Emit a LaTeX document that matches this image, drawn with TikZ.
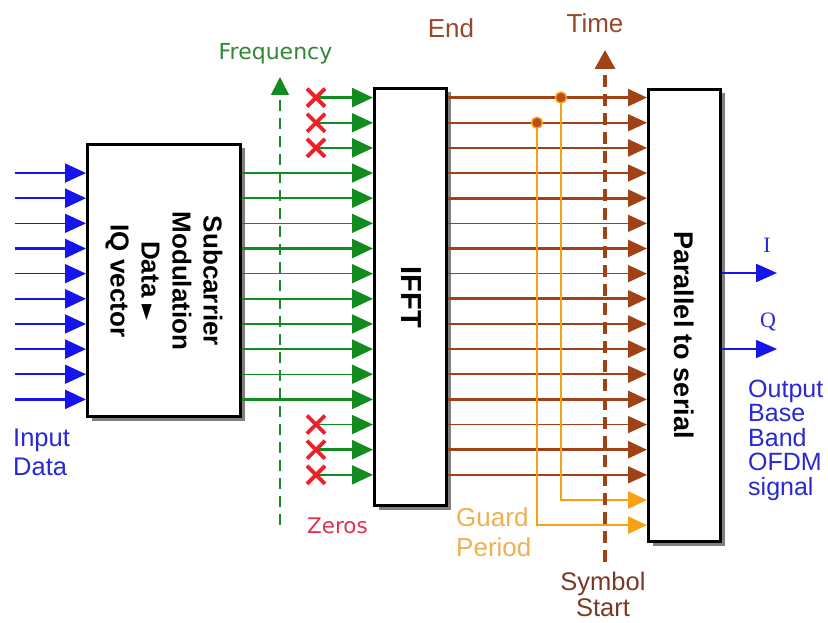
\documentclass[tikz,border=0pt]{standalone}
\usepackage{fontspec}
\setmainfont{Liberation Sans}
\newfontfamily\arialf{Liberation Sans}
\newfontfamily\verdf{DejaVu Sans}
\newfontfamily\timesf{Liberation Serif}
\usetikzlibrary{arrows.meta,shadows}
\definecolor{cblue}{RGB}{20,20,235}
\definecolor{cbluetxt}{RGB}{40,40,215}
\definecolor{cgreen}{RGB}{18,140,30}
\definecolor{cfreq}{RGB}{50,135,55}
\definecolor{cred}{RGB}{238,32,42}
\definecolor{czeros}{RGB}{225,50,75}
\definecolor{cbrown}{RGB}{160,66,22}
\definecolor{cbrowntxt}{RGB}{150,72,42}
\definecolor{csymtxt}{RGB}{120,58,38}
\definecolor{corange}{RGB}{250,160,20}
\definecolor{cguardtxt}{RGB}{240,175,80}
\definecolor{cdot}{RGB}{185,80,25}
\begin{document}
\begin{tikzpicture}[x=1pt,y=-1pt,
  blk/.style={draw=black, line width=3pt, fill=white, inner sep=0pt,
    drop shadow={shadow xshift=4pt, shadow yshift=-4pt, fill=black!50, opacity=1}},
  boxtxt/.style={rotate=-90, align=center, inner sep=0pt, text=black},
  barrow/.style={draw=cblue, -{Triangle[length=21pt,width=19pt]}},
  garrow/.style={draw=cgreen, -{Triangle[length=21pt,width=19pt]}},
  brarrow/.style={draw=cbrown, -{Triangle[length=19pt,width=17pt]}},
  orarrow/.style={draw=corange, line width=2.6pt, -{Triangle[length=19pt,width=17pt]}},
  redx/.style={draw=cred, line width=3.8pt},
  lbl/.style={inner sep=0pt}
]
\useasboundingbox (0,0) rectangle (828,623);
\fill[white] (0,0) rectangle (828,623);

% row coordinates
\foreach \k in {0,...,17}{
  \pgfmathsetmacro\yy{97.6+25.15*\k}
  \coordinate (r\k) at (0,\yy);
}

% blocks
\node[blk, minimum width=153pt, minimum height=272pt] (sub) at (164,280.5) {};
\node[blk, minimum width=72pt, minimum height=417pt] (ifft) at (410.5,297) {};
\node[blk, minimum width=72pt, minimum height=452pt] (ps) at (684.5,315.5) {};

\node[boxtxt, font=\arialf\bfseries\fontsize{26}{31}\selectfont] (subtxt) at (164,281)
  {Subcarrier\\Modulation\\Data {\verdf\fontsize{21}{20}\selectfont ►}\\IQ vector};
\node[boxtxt, font=\arialf\bfseries\fontsize{29}{33}\selectfont] (iffttxt) at (411.5,297.5) {IFFT};
\node[boxtxt, font=\arialf\bfseries\fontsize{27}{31}\selectfont] (pstxt) at (684,335) {Parallel to serial};

% frequency axis
\coordinate (fbot) at (280,525);
\coordinate (ftop) at (280,77);
\draw[draw=cgreen, line width=1.6pt, dash pattern=on 11pt off 7pt] (fbot) -- (280,92);
\draw[cgreen, line width=1.6pt, -{Triangle[length=18pt,width=18pt]}] (280,93) -- (ftop);

% blue input arrows
\foreach \j in {0,...,9}{
  \pgfmathtruncatemacro\k{\j+3}
  \pgfmathsetmacro\lw{mod(\j,2)==0 ? 1.6 : 2.4}
  \coordinate (in\j) at (15,0 |- r\k);
  \draw[barrow, line width=\lw pt] (in\j) -- (sub.west |- r\k);
}

% green lines from modulation block
\foreach \k in {3,...,12}{
  \pgfmathsetmacro\lw{mod(\k,2)==0 ? 2.5 : 1.5}
  \draw[garrow, line width=\lw pt] (sub.east |- r\k) -- (ifft.west |- r\k);
}

% zero subcarriers
\foreach \k in {0,1,2,13,14,15}{
  \pgfmathsetmacro\lw{mod(\k,2)==0 ? 2.5 : 1.7}
  \coordinate (x\k) at (316,0 |- r\k);
  \draw[garrow, line width=\lw pt] (x\k) -- (ifft.west |- r\k);
  \draw[redx] ([shift={(-9,-9)}]x\k) -- ([shift={(9,9)}]x\k);
  \draw[redx] ([shift={(-9,9)}]x\k) -- ([shift={(9,-9)}]x\k);
}

% brown IFFT outputs
\foreach \k in {0,...,15}{
  \pgfmathsetmacro\lw{mod(\k,2)==0 ? 2.7 : 1.6}
  \draw[brarrow, line width=\lw pt] (ifft.east |- r\k) -- (ps.west |- r\k);
}

% guard period (cyclic prefix)
\coordinate (g0) at (561,0 |- r0);
\coordinate (g1) at (537,0 |- r1);
\draw[orarrow] (g0) |- (ps.west |- r16);
\draw[orarrow] (g1) |- (ps.west |- r17);
\filldraw[fill=cdot, draw=corange, line width=1.4pt] (g0) circle (5.5pt);
\filldraw[fill=cdot, draw=corange, line width=1.4pt] (g1) circle (5.5pt);

% time axis
\coordinate (tbot) at (605,562);
\coordinate (ttop) at (605,50);
\draw[draw=cbrown, line width=3.4pt, dash pattern=on 12pt off 7pt] (tbot) -- (605,66);
\draw[cbrown, line width=3.4pt, -{Triangle[length=19pt,width=20pt]}] (605,68) -- (ttop);

% outputs I and Q
\coordinate (iend) at (777,273);
\coordinate (qend) at (777,349);
\draw[draw=cblue, line width=2.4pt, -{Triangle[length=21pt,width=18pt]}] (ps.east |- iend) -- (iend);
\draw[draw=cblue, line width=1.8pt, -{Triangle[length=21pt,width=18pt]}] (ps.east |- qend) -- (qend);

% labels
\node[lbl, font=\verdf\fontsize{22}{25}\selectfont, text=cfreq] (freq) at (275.5,54) {Frequency};
\node[lbl, font=\arialf\fontsize{26}{30}\selectfont, text=cbrowntxt] (endl) at (451,28) {End};
\node[lbl, font=\arialf\fontsize{26}{30}\selectfont, text=cbrowntxt] (timel) at (595,23) {Time};
\node[lbl, font=\verdf\fontsize{21.5}{25}\selectfont, text=czeros] (zeros) at (337.5,526) {Zeros};
\node[lbl, font=\arialf\fontsize{26}{30}\selectfont, text=cguardtxt, align=left, anchor=west] (guard) at (456,532) {Guard\\Period};
\node[lbl, font=\arialf\fontsize{25.5}{26}\selectfont, text=csymtxt, align=center] (symst) at (603,594) {Symbol\\Start};
\node[lbl, font=\arialf\fontsize{25.5}{29}\selectfont, text=cbluetxt, align=left, anchor=west] (input) at (13,452) {Input\\Data};
\node[lbl, font=\arialf\fontsize{25}{24.5}\selectfont, text=cbluetxt, align=left, anchor=west] (outl) at (748,440) {Output\\Base\\Band\\OFDM\\signal};
\node[lbl, font=\timesf\fontsize{22}{26}\selectfont, text=cbluetxt] (il) at (767,245) {I};
\node[lbl, font=\timesf\fontsize{22}{26}\selectfont, text=cbluetxt] (ql) at (768,322) {Q};
\end{tikzpicture}
\end{document}
